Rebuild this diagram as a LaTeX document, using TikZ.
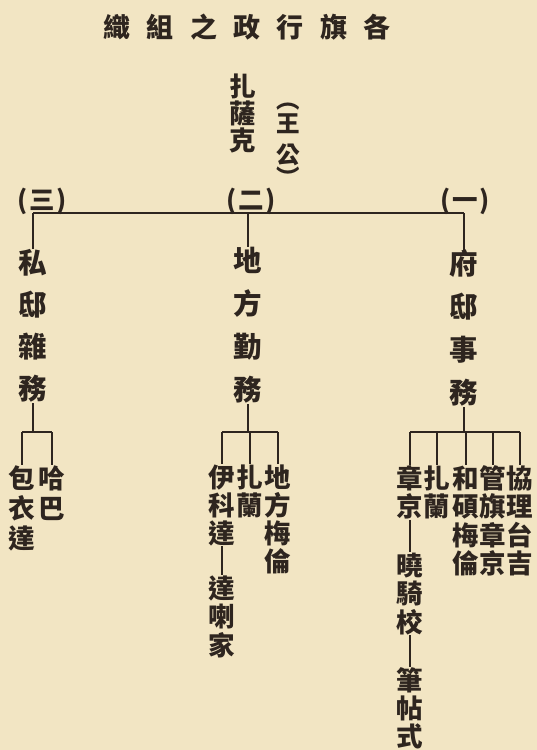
\documentclass[tikz,border=0pt]{standalone}
\usepackage{fontspec}
\newfontfamily\cjk{Noto Sans CJK TC}
\definecolor{paper}{HTML}{F2E5C3}
\definecolor{ink}{HTML}{2E251F}
\tikzset{
  titlech/.style={inner sep=0pt, text=ink, font=\cjk\bfseries\fontsize{27}{27}\selectfont, text height=23.8pt, text depth=3.2pt},
  mainch/.style={inner sep=0pt, text=ink, font=\cjk\bfseries\fontsize{28.5}{28.5}\selectfont, text height=25.1pt, text depth=3.4pt},
  subch/.style={inner sep=0pt, text=ink, font=\cjk\bfseries\fontsize{26.5}{26.5}\selectfont, text height=23.3pt, text depth=3.2pt},
  smallch/.style={inner sep=0pt, text=ink, font=\cjk\bfseries\fontsize{23.5}{23.5}\selectfont, text height=20.7pt, text depth=2.8pt},
  numlabel/.style={inner sep=0pt, text=ink, font=\cjk\bfseries\fontsize{25.5}{25.5}\selectfont},
  wire/.style={draw=ink, line width=1.3pt},
}
\newcommand\vgroup[6]{%
  \foreach \c [count=\i] in {#6}{%
    \node[#5] (#1-\i) at ({#2},{#3+(\i-1)*(#4)}) {\c};}}
\begin{document}
\begin{tikzpicture}[x=1pt,y=-1pt]
\fill[paper] (0,0) rectangle (537,750);
\useasboundingbox (0,0) rectangle (537,750);
% title
\foreach \c [count=\i] in {織,組,之,政,行,旗,各}{%
  \node[titlech] (t-\i) at ({117+(\i-1)*43.3},27) {\c};}
% head
\vgroup{zsk}{243}{86}{27}{subch}{扎,薩,克}
\node[smallch] (wp-1) at (288,100) {︵};
\vgroup{wg}{288}{124}{31}{smallch}{王,公}
\node[smallch] (wp-2) at (288,178) {︶};
% numbers
\node[numlabel] (n3) at (42,201) {(\kern2pt 三\kern2pt)};
\node[numlabel] (n2) at (251,201) {(\kern2pt 二\kern2pt)};
\node[numlabel] (n1) at (465,201) {(\kern2pt 一\kern2pt)};
% main columns
\vgroup{s}{33}{263}{42}{mainch}{私,邸,雜,務}
\vgroup{d}{248}{261}{43}{mainch}{地,方,勤,務}
\vgroup{f}{464}{264}{43}{mainch}{府,邸,事,務}
% main bus
\coordinate (busL) at (33,213);
\coordinate (busM) at (248,213);
\coordinate (busR) at (464,213);
\draw[wire] (busL) -- (busR);
\draw[wire] (busL) -- (s-1.north);
\draw[wire] (busM) -- (d-1.north);
\draw[wire] (busR) -- (f-1.north);
% column three
\vgroup{bao}{22}{478}{30}{subch}{包,衣,達}
\vgroup{ha}{52}{478}{30}{subch}{哈,巴}
\coordinate (sj) at (33,432);
\draw[wire] (s-4.south) -- (sj);
\draw[wire] (bao-1.north |- sj) -- (ha-1.north |- sj);
\draw[wire] (bao-1.north |- sj) -- (bao-1.north);
\draw[wire] (ha-1.north |- sj) -- (ha-1.north);
% column two
\vgroup{yi}{222}{477}{28}{subch}{伊,科,達}
\vgroup{dl}{222}{588}{28.5}{subch}{達,喇,家}
\vgroup{zlb}{250}{477}{28}{subch}{扎,蘭}
\vgroup{dfm}{278}{477}{28}{subch}{地,方,梅,倫}
\coordinate (dj) at (248,432);
\draw[wire] (d-4.south) -- (dj);
\draw[wire] (yi-1.north |- dj) -- (dfm-1.north |- dj);
\foreach \g in {yi,zlb,dfm}{\draw[wire] (\g-1.north |- dj) -- (\g-1.north);}
\draw[wire] (yi-3.south) -- (dl-1.north);
% column one
\vgroup{zj}{410}{478}{28.5}{subch}{章,京}
\vgroup{xq}{410}{565}{28.5}{subch}{曉,騎,校}
\vgroup{bt}{410}{680}{28}{subch}{筆,帖,式}
\vgroup{zla}{437}{478}{28.5}{subch}{扎,蘭}
\vgroup{hs}{466}{478}{28.5}{subch}{和,碩,梅,倫}
\vgroup{gq}{493}{478}{28.5}{subch}{管,旗,章,京}
\vgroup{xl}{520}{478}{28.5}{subch}{協,理,台,吉}
\coordinate (fj) at (464,432);
\draw[wire] (f-4.south) -- (fj);
\draw[wire] (zj-1.north |- fj) -- (xl-1.north |- fj);
\foreach \g in {zj,zla,hs,gq,xl}{\draw[wire] (\g-1.north |- fj) -- (\g-1.north);}
\draw[wire] (zj-2.south) -- (xq-1.north);
\draw[wire] (xq-3.south) -- (bt-1.north);
\end{tikzpicture}
\end{document}
